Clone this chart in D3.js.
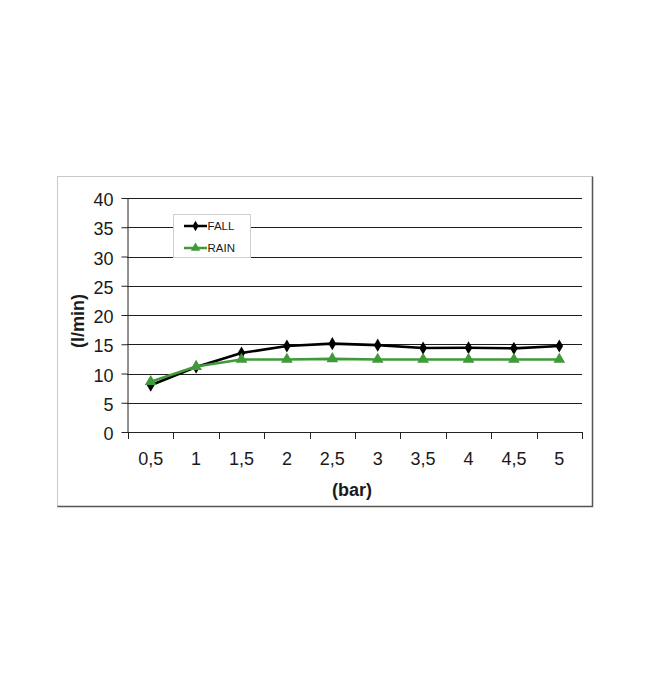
<!DOCTYPE html>
<html>
<head>
<meta charset="utf-8">
<script src="https://cdn.jsdelivr.net/npm/d3@7"></script>
<style>
  html, body { margin: 0; padding: 0; background: #fff; }
  svg { display: block; font-family: "Liberation Sans", Arial, sans-serif; }
</style>
</head>
<body>
<script>
const categories = ["0,5", "1", "1,5", "2", "2,5", "3", "3,5", "4", "4,5", "5"];
const fallValues = [8.0, 11.1, 13.5, 14.7, 15.1, 14.85, 14.35, 14.4, 14.3, 14.7];
const rainValues = [8.6, 11.2, 12.4, 12.4, 12.5, 12.4, 12.4, 12.4, 12.4, 12.4];
const yTicks = [0, 5, 10, 15, 20, 25, 30, 35, 40];
const seriesNames = ["FALL", "RAIN"];
const xTitle = "(bar)";
const yTitle = "(l/min)";

const W = 650, H = 699;
const svg = d3.select("body").append("svg").attr("width", W).attr("height", H);

// outer frame
svg.append("rect").attr("x", 57.5).attr("y", 176.5).attr("width", 535).attr("height", 330)
  .attr("fill", "#fff").attr("stroke", "#c8c8c8").attr("stroke-width", 1);
svg.append("path").attr("d", "M592.5,176.5V506.5H57.5").attr("fill", "none")
  .attr("stroke", "#555").attr("stroke-width", 1.5);

const x = d3.scaleBand().domain(categories).range([128, 582]);
const y = d3.scaleLinear().domain([0, 40]).range([432, 198]);

// gridlines
svg.append("g").selectAll("line").data(yTicks.filter(d => d > 0)).join("line")
  .attr("x1", 127).attr("x2", 582)
  .attr("y1", d => Math.round(y(d)) + 0.5).attr("y2", d => Math.round(y(d)) + 0.5)
  .attr("stroke", "#1e1e1e").attr("stroke-width", 1.1);

// y axis
const yAxis = d3.axisLeft(y).tickValues(yTicks).tickSize(6).tickSizeOuter(0).tickPadding(8)
  .tickFormat(d3.format("d"));
const gy = svg.append("g").attr("transform", "translate(127.5,0)").call(yAxis);
gy.select(".domain").attr("stroke", "#222");
gy.selectAll(".tick line").attr("stroke", "#222");
gy.selectAll(".tick text").attr("font-size", 18).attr("fill", "#1a1a1a").attr("dy", "0.42em")
  .attr("font-family", "'Liberation Sans', Arial, sans-serif");

// x axis
svg.append("line").attr("x1", 122).attr("x2", 582).attr("y1", 432.5).attr("y2", 432.5)
  .attr("stroke", "#222");
const boundaries = categories.map(c => x(c)).concat([x(categories[categories.length - 1]) + x.bandwidth()]);
svg.append("g").selectAll("line").data(boundaries).join("line")
  .attr("x1", d => Math.round(d) + 0.5).attr("x2", d => Math.round(d) + 0.5)
  .attr("y1", 432).attr("y2", 439).attr("stroke", "#222");
svg.append("g").selectAll("text").data(categories).join("text")
  .attr("x", d => x(d) + x.bandwidth() / 2).attr("y", 465)
  .attr("text-anchor", "middle").attr("font-size", 18).attr("fill", "#1a1a1a")
  .text(d => d);

// axis titles
svg.append("text").attr("x", 352).attr("y", 496).attr("text-anchor", "middle")
  .attr("font-size", 18).attr("font-weight", "bold").attr("fill", "#1a1a1a").text(xTitle);
svg.append("text").attr("transform", "translate(84,321) rotate(-90)").attr("text-anchor", "middle")
  .attr("font-size", 18).attr("font-weight", "bold").attr("fill", "#1a1a1a").text(yTitle);

const cx = d => x(d) + x.bandwidth() / 2;
const fallColor = "#000000", rainColor = "#3f9a38";

const lineGen = vals => d3.line().x((d, i) => cx(categories[i])).y(d => y(d))(vals);

svg.append("path").attr("d", lineGen(fallValues)).attr("fill", "none")
  .attr("stroke", fallColor).attr("stroke-width", 2.6).attr("stroke-linejoin", "round");
svg.append("g").selectAll("path").data(fallValues).join("path")
  .attr("transform", (d, i) => `translate(${cx(categories[i])},${y(d)})`)
  .attr("d", d3.symbol(d3.symbolDiamond, 50)).attr("fill", fallColor);

svg.append("path").attr("d", lineGen(rainValues)).attr("fill", "none")
  .attr("stroke", rainColor).attr("stroke-width", 2.6).attr("stroke-linejoin", "round");
svg.append("g").selectAll("path").data(rainValues).join("path")
  .attr("transform", (d, i) => `translate(${cx(categories[i])},${y(d)})`)
  .attr("d", d3.symbol(d3.symbolTriangle, 60)).attr("fill", rainColor);

// legend
const lg = svg.append("g");
lg.append("rect").attr("x", 173.5).attr("y", 214.5).attr("width", 77).attr("height", 43)
  .attr("fill", "#fff").attr("stroke", "#cfcfcf");
const legendItems = [
  { name: seriesNames[0], color: fallColor, sym: d3.symbolDiamond, size: 32, yy: 226 },
  { name: seriesNames[1], color: rainColor, sym: d3.symbolTriangle, size: 38, yy: 248 }
];
legendItems.forEach(it => {
  lg.append("line").attr("x1", 184).attr("x2", 207).attr("y1", it.yy).attr("y2", it.yy)
    .attr("stroke", it.color).attr("stroke-width", 2.5);
  lg.append("path").attr("transform", `translate(195.5,${it.yy})`)
    .attr("d", d3.symbol(it.sym, it.size)).attr("fill", it.color);
  lg.append("text").attr("x", 207.5).attr("y", it.yy + 4).attr("font-size", 11.5)
    .attr("fill", "#1a1a1a").text(it.name);
});
</script>
</body>
</html>
